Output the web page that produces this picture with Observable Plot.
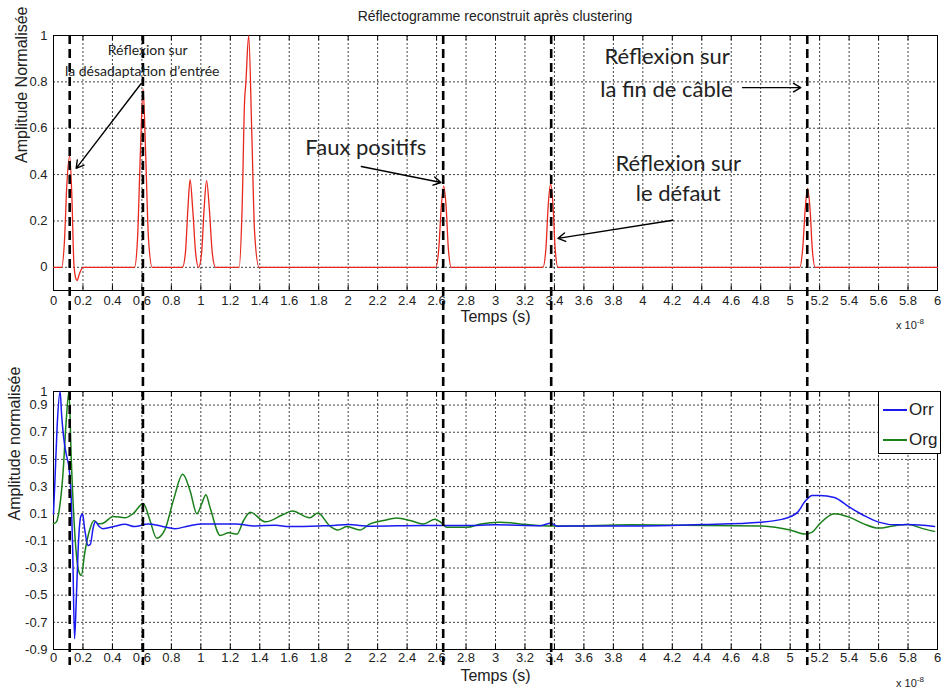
<!DOCTYPE html>
<html><head><meta charset="utf-8">
<script src="https://cdn.jsdelivr.net/npm/d3@7"></script>
<script src="https://cdn.jsdelivr.net/npm/@observablehq/plot@0.6"></script>
<style>
body{margin:0;background:#fff;}
#wrap{position:relative;width:945px;height:690px;font-family:"Liberation Sans",Arial,sans-serif;color:#222;}
#title{position:absolute;left:53px;width:884px;top:8px;text-align:center;font-size:14px;}
#topc{position:absolute;left:0;top:26px;}
#botc{position:absolute;left:0;top:335px;}
.exp{position:absolute;font-size:11px;}
.exp sup{font-size:8px;}
#legend{position:absolute;left:878px;top:391px;width:61px;height:61px;border:1px solid #000;background:#fff;font-size:17px;}
#legend .row{position:absolute;left:4px;height:20px;display:flex;align-items:center;}
#legend .sw{display:inline-block;width:24px;height:1.5px;margin-right:2px;}
</style></head>
<body>
<div id="wrap">
  <div id="title">Réflectogramme reconstruit après clustering</div>
  <div id="topc"></div>
  <div id="botc"></div>
  <div class="exp" style="left:896px;top:317px;">x 10<sup>-8</sup></div>
  <div class="exp" style="left:896px;top:675px;">x 10<sup>-8</sup></div>
  <div id="legend">
    <div class="row" style="top:8px;"><span class="sw" style="background:#1a1af0"></span>Orr</div>
    <div class="row" style="top:38px;"><span class="sw" style="background:#1a801a"></span>Org</div>
  </div>
</div>
<script>
// ---- data (time in units of 1e-8 s) ----
const xTicks = [0,0.2,0.4,0.6,0.8,1,1.2,1.4,1.6,1.8,2,2.2,2.4,2.6,2.8,3,3.2,3.4,3.6,3.8,4,4.2,4.4,4.6,4.8,5,5.2,5.4,5.6,5.8,6];
const topYTicks = [0,0.2,0.4,0.6,0.8,1];
const botYTicks = [1,0.9,0.7,0.5,0.3,0.1,-0.1,-0.3,-0.5,-0.7,-0.9];

const redT = [0,0.055,0.075,0.09,0.11,0.125,0.138,0.15,0.16,0.175,0.2,
  0.55,0.57,0.59,0.608,0.625,0.645,0.67,
  0.875,0.895,0.912,0.927,0.945,0.965,0.985,1.005,1.022,1.039,1.058,1.078,1.1,
  1.26,1.28,1.297,1.305,1.325,1.345,1.365,1.395,
  2.595,2.615,2.632,2.648,2.665,2.68,2.7,
  3.322,3.342,3.358,3.374,3.39,3.405,3.424,
  5.065,5.085,5.102,5.118,5.135,5.15,5.17,6];
const redV = [0,0,0.12,0.35,0.48,0.3,0.02,-0.045,-0.057,-0.03,0,
  0,0.12,0.5,0.77,0.5,0.12,0,
  0,0.06,0.25,0.378,0.25,0.06,0,0.06,0.25,0.374,0.25,0.06,0,
  0,0.25,0.72,0.79,1.0,0.6,0.15,0,
  0,0.08,0.26,0.35,0.26,0.08,0,
  0,0.08,0.27,0.36,0.27,0.08,0,
  0,0.08,0.25,0.34,0.25,0.08,0,0];

const orrT = [0,0.01,0.025,0.045,0.055,0.075,0.09,0.105,0.12,0.13,0.143,0.155,0.17,0.185,0.197,0.21,0.235,0.25,0.27,0.285,0.31,0.335,
  0.416,0.484,0.552,0.643,0.734,0.825,0.916,1.007,1.234,1.37,1.507,1.6,1.8,1.9,2.0,2.15,2.5,2.8,3.0,3.3,3.375,3.42,3.6,4.0,4.4,4.8,4.95,
  5.05,5.1,5.15,5.2,5.3,5.4,5.5,5.6,5.72,5.8,5.98];
const orrV = [0.1,0.35,0.75,1.0,0.83,0.61,0.52,0.44,0.22,-0.15,-0.82,-0.52,-0.1,0.08,0.1,0.0,-0.135,-0.125,0.0,0.04,0.006,-0.01,
  0.008,0.022,0.005,0.025,0.008,-0.01,0.01,0.025,0.025,0.01,0.015,0.005,0.01,0.013,0.02,0.008,0.013,0.013,0.018,0.012,0.03,0.008,0.01,0.01,0.02,0.038,0.06,
  0.11,0.19,0.235,0.235,0.22,0.15,0.087,0.038,0.018,0.02,0.006];

const orgT = [0,0.02,0.04,0.064,0.086,0.105,0.12,0.143,0.173,0.189,0.211,0.245,0.275,0.302,0.336,0.405,0.484,0.54,0.609,0.655,0.7,0.757,
  0.814,0.877,0.927,0.973,1.007,1.034,1.064,1.132,1.189,1.245,1.29,1.336,1.439,1.552,1.62,1.739,1.795,1.875,1.93,1.99,2.08,2.148,
  2.24,2.33,2.42,2.51,2.59,2.636,2.67,2.807,2.9,3.03,3.216,3.375,3.466,3.92,4.8,5.0,5.1,5.15,5.2,5.3,5.4,5.5,5.6,5.7,5.8,5.9,5.98];
const orgV = [0.026,0.04,0.136,0.39,0.78,1.0,0.52,-0.02,-0.33,-0.355,-0.195,-0.02,0.05,0.026,0.03,0.08,0.07,0.1,0.175,0.05,-0.08,-0.015,
  0.2,0.39,0.27,0.1,0.175,0.24,0.14,-0.06,-0.04,-0.05,0.05,0.11,0.04,0.09,0.12,0.07,0.105,0.01,-0.02,0.005,-0.02,0.025,
  0.05,0.068,0.05,0.025,0.06,0.03,0.0,0.0,0.025,0.038,0.02,0.01,0.01,0.018,0.01,-0.02,-0.05,-0.035,0.025,0.1,0.075,0.025,-0.006,0.01,0.02,-0.01,-0.03];

const dashT = [0.11,0.607,2.645,3.378,5.116];

const smallText = ["Réflexion sur","la désadaptation d’entrée"];
const smallX = [0.639,0.602];
const smallY = [0.935,0.845];
const bigText = ["Faux positifs","Réflexion sur","le défaut","Réflexion sur","la fin de câble"];
const bigX = [2.12,4.24,4.24,4.165,4.16];
const bigY = [0.517,0.448,0.315,0.906,0.767];
const arrowX1 = [0.595,2.089,4.204,4.677];
const arrowY1 = [0.793,0.435,0.203,0.775];
const arrowX2 = [0.154,2.63,3.424,5.072];
const arrowY2 = [0.427,0.366,0.125,0.775];

// ---- build tables ----
const red = redT.map((t,i)=>({t, v: redV[i]}));
const orr = orrT.map((t,i)=>({t, v: orrV[i]}));
const org = orgT.map((t,i)=>({t, v: orgV[i]}));
const small = smallText.map((s,i)=>({s, x: smallX[i], y: smallY[i]}));
const big = bigText.map((s,i)=>({s, x: bigX[i], y: bigY[i]}));
const arrows = arrowX1.map((x1,i)=>({x1, y1: arrowY1[i], x2: arrowX2[i], y2: arrowY2[i]}));

const fmt = d => String(Math.round(d*10)/10);
const gridStyle = {stroke:"#444", strokeWidth:1, strokeDasharray:"2,2"};
const baseStyle = {fontFamily:"'Liberation Sans', Arial, sans-serif", fontSize:"13px", background:"white", color:"#222", overflow:"visible"};

function tickMarks(H) {
  return [
    Plot.ruleX(xTicks, {stroke:"#000", insetTop: H - 5}),
    Plot.ruleX(xTicks, {stroke:"#000", insetBottom: H - 5})
  ];
}

const topPlot = Plot.plot({
  width: 945, height: 309,
  marginLeft: 53, marginRight: 8, marginTop: 9, marginBottom: 45,
  style: baseStyle,
  x: {domain:[0,6], ticks: xTicks, tickFormat: fmt, tickSize: 0, tickPadding: 5, label: null},
  y: {domain:[-0.1,1], ticks: topYTicks, tickFormat: fmt, tickSize: 0, tickPadding: 6, label: null},
  marks: [
    Plot.ruleX(xTicks, gridStyle),
    Plot.ruleY(topYTicks, gridStyle),
    ...tickMarks(255),
    Plot.frame({stroke:"#000", strokeWidth:1}),
    Plot.line(red, {x:"t", y:"v", stroke:"#e8281e", strokeWidth:1.3, curve:"monotone-x"}),
    Plot.ruleX(dashT, {stroke:"#000", strokeWidth:2.6, strokeDasharray:"9,5", insetBottom:-45}),
    Plot.text(small, {x:"x", y:"y", text:"s", fontSize:14, fontFamily:"Lato, 'Open Sans', sans-serif", fill:"#222"}),
    Plot.text(big, {x:"x", y:"y", text:"s", fontSize:22, fontFamily:"Lato, 'Open Sans', sans-serif", fill:"#222"}),
    Plot.arrow(arrows, {x1:"x1", y1:"y1", x2:"x2", y2:"y2", stroke:"#000", strokeWidth:1.4, headLength:9}),
    Plot.text(["Temps (s)"], {frameAnchor:"bottom", dy:31, fontSize:16, fill:"#222"}),
    Plot.text(["Amplitude Normalisée"], {frameAnchor:"left", rotate:-90, dx:-32, fontSize:16, fill:"#222"})
  ]
});
document.getElementById("topc").appendChild(topPlot);

const botPlot = Plot.plot({
  width: 945, height: 355,
  marginLeft: 53, marginRight: 8, marginTop: 56, marginBottom: 41,
  style: baseStyle,
  x: {domain:[0,6], ticks: xTicks, tickFormat: fmt, tickSize: 0, tickPadding: 3, label: null},
  y: {domain:[-0.9,1], ticks: botYTicks, tickFormat: fmt, tickSize: 0, tickPadding: 6, label: null},
  marks: [
    Plot.ruleX(xTicks, gridStyle),
    Plot.ruleY(botYTicks, gridStyle),
    ...tickMarks(258),
    Plot.frame({stroke:"#000", strokeWidth:1}),
    Plot.line(org, {x:"t", y:"v", stroke:"#1a801a", strokeWidth:1.5, curve:"monotone-x"}),
    Plot.line(orr, {x:"t", y:"v", stroke:"#1a1af0", strokeWidth:1.5, curve:"monotone-x"}),
    Plot.ruleX(dashT, {stroke:"#000", strokeWidth:2.6, strokeDasharray:"9,5", insetTop:-56, insetBottom:-16}),
    Plot.text(["Temps (s)"], {frameAnchor:"bottom", dy:31, fontSize:16, fill:"#222"}),
    Plot.text(["Amplitude normalisée"], {frameAnchor:"left", rotate:-90, dx:-39, fontSize:16, fill:"#222"})
  ]
});
document.getElementById("botc").appendChild(botPlot);
</script>
</body></html>
